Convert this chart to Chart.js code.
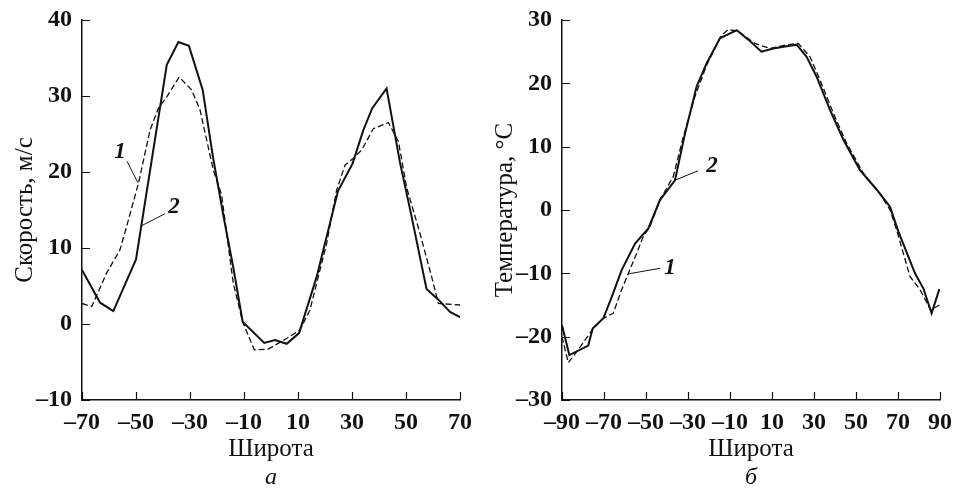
<!DOCTYPE html>
<html>
<head>
<meta charset="utf-8">
<script src="https://cdn.jsdelivr.net/npm/chart.js@4/dist/chart.umd.min.js"></script>
<style>
  html, body { margin: 0; padding: 0; background: #ffffff; }
  #wrap { position: relative; width: 956px; height: 490px; overflow: hidden; }
  .panel { position: absolute; top: 0; height: 490px; }
</style>
</head>
<body>
<div id="wrap">
  <div class="panel" style="left:0;width:478px"><canvas id="cA" width="478" height="490"></canvas></div>
  <div class="panel" style="left:480px;width:476px"><canvas id="cB" width="476" height="490"></canvas></div>
</div>
<script>
// ---------- Panel а: speed, m/s ----------
const latA1 = [-70, -66.4, -60.9, -56, -53.5, -49.1, -44.8, -41.7, -38.6, -34, -29.4, -26.3, -21.4, -18.3, -14, -10.5, -6.2, -1, 5.8, 10.7, 14.4, 20.6, 24.3, 27.4, 30.5, 33.6, 37.9, 43.5, 47.2, 50.2, 55.2, 59.5, 62, 70];
const valA1 = [2.7, 2.3, 6.7, 9.7, 12.8, 18.5, 25.5, 28.4, 29.9, 32.5, 30.8, 28.2, 20.3, 17, 5.4, 0.3, -3.4, -3.3, -1.9, -0.8, 1.8, 10.6, 17.6, 20.9, 21.8, 22.9, 25.7, 26.5, 24, 18, 11.9, 6.2, 2.7, 2.5];
const latA2 = [-70, -63.3, -58.4, -50, -38.6, -34.3, -30.4, -25.3, -21.5, -17.5, -14, -10.5, -2.5, 1.5, 5.8, 10.4, 16.9, 24.8, 30.2, 34.2, 37.5, 42.8, 47.8, 52.1, 57.6, 62, 66.3, 70];
const valA2 = [7.1, 2.8, 1.7, 8.5, 34.1, 37.1, 36.6, 30.8, 22, 14, 7.5, 0.3, -2.5, -2.1, -2.6, -1.2, 6.2, 17.5, 21.1, 25.5, 28.4, 31.0, 21.2, 14.1, 4.6, 3.2, 1.6, 0.9];
const xTicksA = [-70, -50, -30, -10, 10, 30, 50, 70];
const yTicksA = [-10, 0, 10, 20, 30, 40];

// ---------- Panel б: temperature, °C ----------
const latB1 = [-90, -87, -83, -75.1, -70.3, -65.6, -61.6, -58.4, -54.4, -51.3, -48.1, -43.3, -37, -32.2, -26.7, -21.1, -14, -10.8, -6, 1.9, 9, 17, 22.5, 28.1, 32.9, 39.2, 45.6, 53.5, 61.4, 66.2, 69.4, 75.7, 80.5, 85.6, 89.7];
const valB1 = [-20, -24.1, -22.4, -18.7, -17.1, -16.3, -12.6, -10, -6.8, -4.2, -2.6, 1.6, 5.3, 11.6, 17.9, 22.9, 27.6, 28.5, 28.2, 26.3, 25.5, 26.1, 26.3, 24.2, 20.5, 15.3, 10.5, 5.8, 2.6, 0, -3.2, -10.5, -12.6, -15.8, -15];
const latB2 = [-90, -86.5, -77.5, -75.4, -70.3, -66.3, -61.6, -55.2, -48.9, -43.3, -36.2, -31.4, -25.9, -21.1, -14.8, -6.8, -1.3, 5, 10.6, 16.2, 21.7, 26.5, 31.3, 37.6, 44, 51.9, 59.9, 66.2, 70.2, 78.1, 82.1, 86, 89.7];
const valB2 = [-18.2, -22.9, -21.4, -18.7, -17.1, -13.7, -9.5, -5.3, -2.9, 1.6, 4.7, 12.1, 19.5, 23.2, 27.1, 28.4, 26.9, 25, 25.5, 25.8, 26.1, 24.2, 21, 15.8, 11.1, 6.3, 3.2, 0.5, -3.4, -10, -12.4, -16.3, -12.5];
const xTicksB = [-90, -70, -50, -30, -10, 10, 30, 50, 70, 90];
const yTicksB = [-30, -20, -10, 0, 10, 20, 30];

// curve labels: [text, labelLat, labelVal, leaderFromLat, leaderFromVal, leaderToLat, leaderToVal]
const notesA = [
  ['1', -55.9, 22.6, -53.3, 21.4, -49.3, 18.6],
  ['2', -35.9, 15.4, -39.3, 14.5, -48.1, 12.9]
];
const notesB = [
  ['2', -18.6, 7.0, -25.2, 6.2, -36.2, 4.7],
  ['1', -38.6, -9.2, -43.3, -9.2, -58.6, -10.1]
];

const SERIF = '"Liberation Serif", "DejaVu Serif", serif';

function pts(xs, ys) { return xs.map((x, i) => ({ x: x, y: ys[i] })); }

const innerTicks = {
  id: 'innerTicks',
  afterDatasetsDraw(chart) {
    const { ctx, chartArea: a, scales: { x, y } } = chart;
    ctx.save();
    ctx.strokeStyle = '#111';
    ctx.lineWidth = 1.2;
    ctx.beginPath();
    x.ticks.forEach(t => {
      const px = Math.round(x.getPixelForValue(t.value)) + 0.5;
      ctx.moveTo(px, a.bottom); ctx.lineTo(px, a.bottom - 8);
    });
    y.ticks.forEach(t => {
      const py = Math.round(y.getPixelForValue(t.value)) + 0.5;
      ctx.moveTo(a.left, py); ctx.lineTo(a.left + 8, py);
    });
    ctx.stroke();
    ctx.restore();
  }
};

const curveNotes = {
  id: 'curveNotes',
  afterDatasetsDraw(chart, args, opts) {
    const { ctx, scales: { x, y } } = chart;
    ctx.save();
    (opts.items || []).forEach(n => {
      ctx.strokeStyle = '#111';
      ctx.lineWidth = 1;
      ctx.beginPath();
      ctx.moveTo(x.getPixelForValue(n[3]), y.getPixelForValue(n[4]));
      ctx.lineTo(x.getPixelForValue(n[5]), y.getPixelForValue(n[6]));
      ctx.stroke();
      ctx.fillStyle = '#111';
      ctx.font = 'italic bold 23px ' + SERIF;
      ctx.textAlign = 'center';
      ctx.textBaseline = 'middle';
      ctx.fillText(n[0], x.getPixelForValue(n[1]), y.getPixelForValue(n[2]));
    });
    ctx.restore();
  }
};

function makeChart(id, d1x, d1y, d2x, d2y, xt, yt, yTitle, sub, notes, padRight) {
  return new Chart(document.getElementById(id), {
    type: 'scatter',
    data: {
      datasets: [
        { label: '1', data: pts(d1x, d1y), showLine: true, borderColor: '#111', borderWidth: 1.3,
          borderDash: [6, 3], pointRadius: 0, tension: 0, fill: false },
        { label: '2', data: pts(d2x, d2y), showLine: true, borderColor: '#111', borderWidth: 2,
          pointRadius: 0, tension: 0, fill: false }
      ]
    },
    options: {
      responsive: false,
      animation: false,
      events: [],
      layout: { padding: { top: 20, right: padRight, left: 0, bottom: 0 } },
      plugins: {
        legend: { display: false },
        tooltip: { enabled: false },
        title: {
          display: true, text: sub, position: 'bottom', fullSize: false,
          color: '#111', padding: { top: 0, bottom: 0 },
          font: { family: SERIF, size: 24, style: 'italic', weight: 'normal', lineHeight: 1.0 }
        },
        curveNotes: { items: notes }
      },
      scales: {
        x: {
          type: 'linear', position: 'bottom',
          min: xt[0], max: xt[xt.length - 1],
          afterBuildTicks: s => { s.ticks = xt.map(v => ({ value: v })); },
          afterFit: s => { s.height = 66; s.paddingLeft = 0; s.paddingRight = 0; },
          grid: { display: false, drawTicks: false },
          border: { display: true, color: '#111', width: 1.5 },
          ticks: { color: '#111', padding: 8, maxRotation: 0, autoSkip: false,
            font: { family: SERIF, size: 24, weight: 'bold' },
            callback: v => (v < 0 ? '\u2013' + Math.abs(v) : '' + v) },
          title: { display: true, text: 'Широта', color: '#111',
            padding: { top: 0, bottom: 1.5 },
            font: { family: SERIF, size: 25, lineHeight: 1.2 } }
        },
        y: {
          type: 'linear', position: 'left',
          min: yt[0], max: yt[yt.length - 1],
          afterBuildTicks: s => { s.ticks = yt.map(v => ({ value: v })); },
          afterFit: s => { s.width = 82; s.paddingTop = 0; s.paddingBottom = 0; },
          grid: { display: false, drawTicks: false },
          border: { display: true, color: '#111', width: 1.5 },
          ticks: { color: '#111', padding: 10,
            font: { family: SERIF, size: 24, weight: 'bold' },
            callback: v => (v < 0 ? '\u2013' + Math.abs(v) : '' + v) },
          title: { display: true, text: yTitle, color: '#111',
            padding: { top: 10, bottom: 0 },
            font: { family: SERIF, size: 25, lineHeight: 1.2 } }
        }
      }
    },
    plugins: [innerTicks, curveNotes]
  });
}

makeChart('cA', latA1, valA1, latA2, valA2, xTicksA, yTicksA, 'Скорость, м/с', 'а', notesA, 18);
makeChart('cB', latB1, valB1, latB2, valB2, xTicksB, yTicksB, 'Температура, °C', 'б', notesB, 16);
</script>
</body>
</html>
